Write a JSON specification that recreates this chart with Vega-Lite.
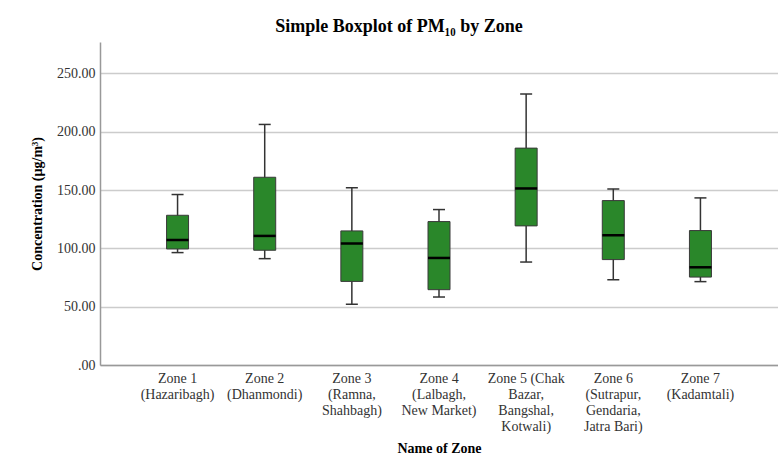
{
  "$schema": "https://vega.github.io/schema/vega-lite/v6.json",
  "autosize": "none",
  "width": 678,
  "height": 323,
  "padding": {"left": 100, "top": 42, "right": 0, "bottom": 100},
  "background": "white",
  "title": {
    "text": "Simple Boxplot of PM₁₀ by Zone",
    "font": "Liberation Serif",
    "fontSize": 18,
    "fontWeight": "bold",
    "color": "#000000",
    "anchor": "middle",
    "dx": -40,
    "dy": 16,
    "offset": 8,
    "baseline": "alphabetic"
  },
  "data": {
    "values": [
      {"zone": "Zone 1\n(Hazaribagh)", "lower": 96.4, "q1": 99.5, "median": 107.2, "q3": 128.4, "upper": 146.2},
      {"zone": "Zone 2\n(Dhanmondi)", "lower": 91.2, "q1": 98.4, "median": 110.7, "q3": 161.0, "upper": 206.3},
      {"zone": "Zone 3\n(Ramna,\nShahbagh)", "lower": 52.2, "q1": 71.7, "median": 104.1, "q3": 115.0, "upper": 151.9},
      {"zone": "Zone 4\n(Lalbagh,\nNew Market)", "lower": 58.3, "q1": 64.6, "median": 91.8, "q3": 123.0, "upper": 133.3},
      {"zone": "Zone 5 (Chak\nBazar,\nBangshal,\nKotwali)", "lower": 88.3, "q1": 119.3, "median": 151.4, "q3": 186.0, "upper": 232.4},
      {"zone": "Zone 6\n(Sutrapur,\nGendaria,\nJatra Bari)", "lower": 73.2, "q1": 90.4, "median": 111.3, "q3": 141.0, "upper": 151.0},
      {"zone": "Zone 7\n(Kadamtali)", "lower": 71.5, "q1": 75.4, "median": 83.8, "q3": 115.3, "upper": 143.3}
    ]
  },
  "encoding": {
    "x": {
      "field": "zone",
      "type": "nominal",
      "sort": null,
      "title": "Name of Zone",
      "scale": {"paddingInner": 0, "paddingOuter": 0.39},
      "axis": {
        "labelExpr": "split(datum.label, '\\n')",
        "labelAngle": 0,
        "labelBaseline": "top",
        "labelLineHeight": 16,
        "labelPadding": 6,
        "labelLimit": 0,
        "labelFont": "Liberation Serif"
      }
    }
  },
  "layer": [
    {
      "mark": {"type": "rule", "stroke": "#333333", "strokeWidth": 1.5},
      "encoding": {
        "y": {
          "field": "lower",
          "type": "quantitative",
          "title": "Concentration (µg/m³)",
          "scale": {"domain": [0, 277], "nice": false, "zero": true},
          "axis": {
            "values": [0, 50, 100, 150, 200, 250],
            "labelExpr": "datum.value == 0 ? '.00' : format(datum.value, '.2f')",
            "labelFont": "Liberation Serif",
            "labelPadding": 5,
            "titlePadding": 12,
            "grid": true,
            "gridColor": "#cccccc",
            "gridWidth": 1.5
          }
        },
        "y2": {"field": "upper"}
      }
    },
    {
      "mark": {"type": "tick", "color": "#333333", "size": 12, "thickness": 1.5, "opacity": 1},
      "encoding": {"y": {"field": "lower", "type": "quantitative", "title": "Concentration (µg/m³)"}}
    },
    {
      "mark": {"type": "tick", "color": "#333333", "size": 12, "thickness": 1.5, "opacity": 1},
      "encoding": {"y": {"field": "upper", "type": "quantitative", "title": "Concentration (µg/m³)"}}
    },
    {
      "mark": {"type": "bar", "size": 22, "fill": "#2a872a", "stroke": "#3a3a3a", "strokeWidth": 1, "opacity": 1},
      "encoding": {
        "y": {"field": "q1", "type": "quantitative", "title": "Concentration (µg/m³)"},
        "y2": {"field": "q3"}
      }
    },
    {
      "mark": {"type": "tick", "color": "#000000", "size": 22, "thickness": 2.5, "opacity": 1},
      "encoding": {"y": {"field": "median", "type": "quantitative", "title": "Concentration (µg/m³)"}}
    }
  ],
  "config": {
    "view": {"stroke": null},
    "axis": {
      "labelFont": "Liberation Serif",
      "labelFontSize": 14,
      "labelColor": "#333333",
      "titleFont": "Liberation Serif",
      "titleFontSize": 14,
      "titleFontWeight": "bold",
      "titleColor": "#000000",
      "domainColor": "#999999",
      "domainWidth": 1.5,
      "ticks": false
    },
    "axisX": {"grid": false, "titlePadding": 8}
  }
}
